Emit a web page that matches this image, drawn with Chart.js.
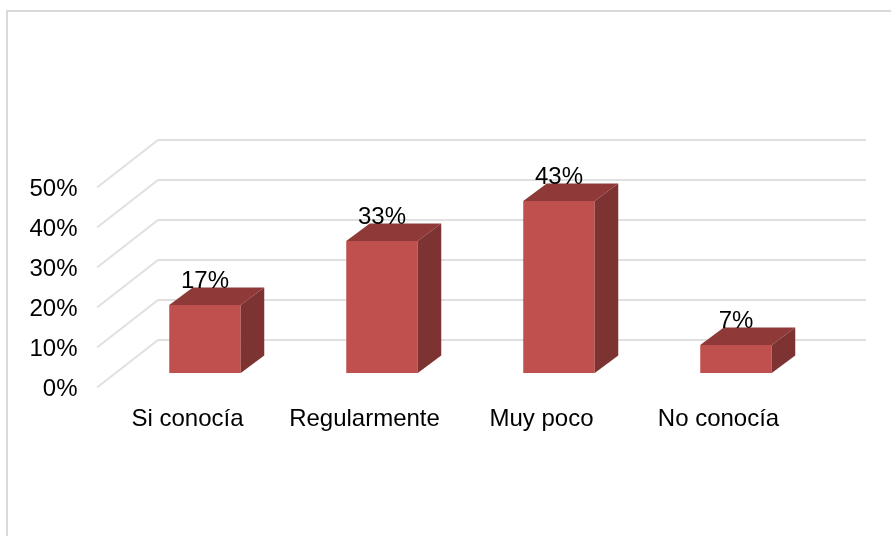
<!DOCTYPE html>
<html>
<head>
<meta charset="utf-8">
<style>
    html, body { margin: 0; padding: 0; background: #fff; }
    #wrap { position: relative; width: 891px; height: 536px; overflow: hidden; }
    #frame { position: absolute; left: 6px; top: 10px; right: 0; bottom: -4px; border-left: 2px solid #d9d9d9; border-top: 2px solid #d9d9d9; }
    canvas { position: absolute; left: 0; top: 0; }
</style>
</head>
<body>
<div id="wrap">
    <canvas id="chart" width="891" height="536"></canvas>
    <div id="frame"></div>
</div>
<script src="https://cdn.jsdelivr.net/npm/chart.js@4"></script>
<script>
const categories = ['Si conocía', 'Regularmente', 'Muy poco', 'No conocía'];
const values = [17, 33, 43, 7];
const axisTicks = [0, 10, 20, 30, 40, 50];

const FONT = { family: '"Liberation Sans", Arial, sans-serif', size: 24 };

// fake 3D: how far the bar faces and the back wall sit from the plot plane
const barDepth = { dx: 23.5, dy: -17.5 };
const wallFront = { dx: -19.5, dy: 14.5 };
const wallBack = { dx: 41.5, dy: -33 };

const wallPlugin = {
    id: 'wall',
    beforeDatasetsDraw(chart) {
        const { ctx, chartArea, scales } = chart;
        ctx.save();
        ctx.strokeStyle = '#e0e0e0';
        ctx.lineWidth = 2;
        axisTicks.forEach(t => {
            const y = scales.y.getPixelForValue(t);
            ctx.beginPath();
            ctx.moveTo(chartArea.left + wallFront.dx, y + wallFront.dy);
            ctx.lineTo(chartArea.left + wallBack.dx, y + wallBack.dy);
            ctx.lineTo(chartArea.right + wallBack.dx, y + wallBack.dy);
            ctx.stroke();
        });
        ctx.restore();
    }
};

const facesPlugin = {
    id: 'faces',
    afterDatasetsDraw(chart) {
        const { ctx } = chart;
        const bars = chart.getDatasetMeta(0).data;
        const { dx, dy } = barDepth;
        ctx.save();
        bars.forEach((bar, i) => {
            const left = bar.x - bar.width / 2;
            const right = bar.x + bar.width / 2;

            // top
            ctx.fillStyle = '#8f3a38';
            ctx.beginPath();
            ctx.moveTo(left, bar.y);
            ctx.lineTo(left + dx, bar.y + dy);
            ctx.lineTo(right + dx, bar.y + dy);
            ctx.lineTo(right, bar.y);
            ctx.closePath();
            ctx.fill();

            // side
            ctx.fillStyle = '#7d3331';
            ctx.beginPath();
            ctx.moveTo(right, bar.y);
            ctx.lineTo(right + dx, bar.y + dy);
            ctx.lineTo(right + dx, bar.base + dy);
            ctx.lineTo(right, bar.base);
            ctx.closePath();
            ctx.fill();

            // value label
            ctx.fillStyle = '#000';
            ctx.font = `${FONT.size}px ${FONT.family}`;
            ctx.textAlign = 'center';
            ctx.textBaseline = 'middle';
            ctx.fillText(values[i] + '%', bar.x, bar.y - 24);
        });
        ctx.restore();
    }
};

new Chart(document.getElementById('chart').getContext('2d'), {
    type: 'bar',
    data: {
        labels: categories,
        datasets: [{
            data: values,
            backgroundColor: '#c0504d',
            borderWidth: 0,
            barPercentage: 0.404,
            categoryPercentage: 1
        }]
    },
    options: {
        responsive: false,
        animation: false,
        layout: { padding: { top: 173, right: 66.5, bottom: 0, left: 0 } },
        plugins: { legend: { display: false }, tooltip: { enabled: false } },
        scales: {
            x: {
                grid: { display: false, drawTicks: false },
                border: { display: false },
                afterFit: s => { s.height = 163; },
                ticks: {
                    color: '#000',
                    font: FONT,
                    padding: 32,
                    labelOffset: -17.5,
                    maxRotation: 0,
                    autoSkip: false
                }
            },
            y: {
                min: 0,
                max: 50,
                grid: { display: false, drawTicks: false },
                border: { display: false },
                afterFit: s => { s.width = 116.5; },
                afterBuildTicks: s => { s.ticks = axisTicks.map(v => ({ value: v })); },
                ticks: {
                    color: '#000',
                    font: FONT,
                    padding: 39,
                    labelOffset: 16,
                    callback: v => v + '%'
                }
            }
        }
    },
    plugins: [wallPlugin, facesPlugin]
});
</script>
</body>
</html>
